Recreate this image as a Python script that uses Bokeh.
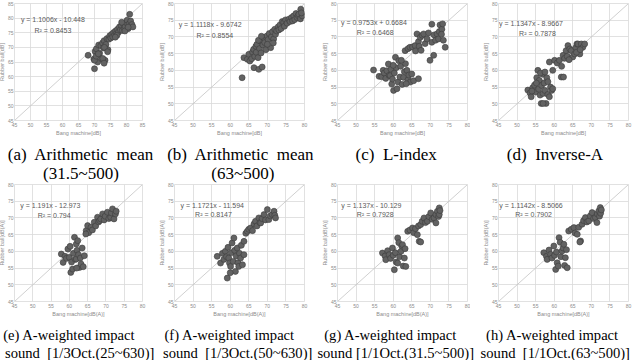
from bokeh.plotting import figure
from bokeh.layouts import row, column
from bokeh.models import Range1d, FixedTicker, Label
from bokeh.embed import file_html
from bokeh.resources import INLINE

# ---------------- data ----------------
axis_min = 45
axis_max = [85, 80, 80, 80, 80, 80, 80, 80]
tick_step = 5

equations = ["y = 1.1006x - 10.448", "y = 1.1118x - 9.6742", "y = 0.9753x + 0.6684",
             "y = 1.1347x - 8.9667", "y = 1.191x - 12.973", "y = 1.1721x - 11.594",
             "y = 1.137x - 10.129", "y = 1.1142x - 8.5066"]
r_squared = ["R\u00b2 = 0.8453", "R\u00b2 = 0.8554", "R\u00b2 = 0.6468", "R\u00b2 = 0.7878",
             "R\u00b2 = 0.794", "R\u00b2 = 0.8147", "R\u00b2 = 0.7928", "R\u00b2 = 0.7902"]
caption_line1 = ["(a)\u00a0 Arithmetic\u00a0 mean", "(b)\u00a0 Arithmetic\u00a0 mean",
                 "(c)\u00a0 L-index", "(d)\u00a0 Inverse-A",
                 "(e) A-weighted impact", "(f) A-weighted impact", "(g) A-weighted impact",
                 "(h) A-weighted impact"]
caption_line2 = ["(31.5~500)", "(63~500)", "", "",
                 "sound\u00a0 [1/3Oct.(25~630)]", "sound\u00a0 [1/3Oct.(50~630)]",
                 "sound [1/1Oct.(31.5~500)]", "sound\u00a0 [1/1Oct.(63~500)]"]
x_titles = ["Bang machine[dB]"] * 4 + ["Bang machine[dB(A)]"] * 4
y_titles = ["Rubber ball[dB]"] * 4 + ["Rubber ball[dB(A)]"] * 4

points_a = [(68.0,67.3),(69.8,66.0),(70.0,62.7),(70.2,68.6),(70.6,69.5),(71.0,65.0),(71.3,70.8),
            (71.6,68.0),(72.0,70.6),(72.2,66.1),(72.5,71.5),(72.8,69.8),(73.0,72.3),(73.3,65.6),
            (73.6,71.0),(73.9,73.0),(74.2,69.2),(74.5,72.8),(74.8,74.0),(75.1,73.2),(75.4,74.5),
            (75.7,73.6),(76.0,75.1),(76.3,74.2),(76.6,75.6),(76.9,74.8),(77.2,76.2),(77.5,75.2),
            (77.8,77.0),(78.1,76.0),(78.4,77.5),(78.7,75.8),(79.0,78.1),(79.3,76.5),(79.6,77.2),
            (79.9,78.5),(80.2,79.3),(80.5,76.4),(80.8,78.0),(81.0,81.3),(81.3,79.0),(81.7,77.8),
            (82.0,77.0),(70.0,65.6),(70.5,67.0),(71.2,67.8),(72.6,66.2),(73.1,70.0),(73.0,64.6),
            (74.1,68.5),(77.0,74.1),(78.5,78.6),(79.5,75.6),(80.5,76.9),(76.5,73.5)]
points_b = [(63.2,57.8),(63.7,63.8),(64.6,63.3),(65.0,64.8),(65.3,62.8),(65.8,63.5),(66.0,65.5),
            (66.3,66.3),(66.4,60.8),(66.6,64.2),(66.9,67.2),(67.2,67.8),(67.0,65.4),(67.5,63.8),
            (67.7,60.3),(67.9,66.5),(68.1,68.8),(68.3,65.2),(68.6,61.0),(68.8,67.6),(69.0,69.8),
            (69.3,68.3),(69.6,66.2),(69.9,70.3),(70.2,69.2),(70.5,71.0),(70.9,66.8),(71.1,70.0),
            (71.4,71.6),(71.7,69.4),(72.0,72.3),(72.2,70.8),(72.5,71.8),(72.9,73.0),(73.1,72.1),
            (73.4,73.6),(73.7,72.5),(74.0,74.6),(74.4,74.3),(74.6,73.2),(74.9,75.1),(75.3,74.1),
            (75.8,75.3),(76.1,74.6),(76.5,75.8),(76.8,74.8),(77.1,76.3),(77.4,75.2),(77.7,77.0),
            (78.0,75.8),(78.3,76.4),(78.5,76.8),(79.0,78.3),(78.9,75.4),(79.4,76.3),(79.2,77.2),
            (67.6,69.0),(68.4,70.2),(70.0,67.8),(71.6,68.2)]
points_c = [(54.7,60.1),(56.2,58.2),(56.9,58.1),(57.3,60.0),(57.6,59.2),(58.0,57.6),(58.3,59.9),
            (58.7,61.9),(58.9,58.5),(59.2,58.4),(59.4,60.3),(59.6,55.9),(59.8,57.4),(60.1,54.0),
            (60.3,59.2),(60.6,63.9),(60.8,60.8),(61.0,54.5),(61.3,56.5),(61.5,62.9),(61.8,58.0),
            (62.0,61.2),(62.4,55.8),(62.8,57.9),(63.0,59.6),(63.3,62.0),(63.7,60.0),(64.0,57.2),
            (64.2,58.6),(64.6,56.5),(65.0,58.9),(65.5,56.9),(63.5,56.0),(62.2,63.0),(60.0,61.5),
            (63.2,65.9),(64.0,66.5),(64.5,66.9),(65.2,67.0),(65.9,67.4),(66.0,65.8),(66.4,70.9),
            (66.8,68.6),(67.3,69.9),(67.0,67.2),(67.8,70.5),(68.2,70.9),(68.6,68.0),(69.1,69.4),
            (69.5,71.2),(69.9,63.0),(70.4,68.4),(70.4,73.8),(70.9,64.5),(71.0,70.6),(71.4,69.0),
            (71.8,70.9),(72.2,69.4),(72.4,71.6),(72.6,73.6),(73.1,72.3),(73.0,70.8),(73.5,69.0),
            (74.0,66.9),(73.3,73.9),(66.8,57.5),(67.5,66.0)]
points_d = [(52.9,54.1),(53.5,53.2),(53.8,52.1),(54.2,54.8),(54.7,55.6),(55.0,53.5),(55.3,57.8),
            (55.6,60.0),(55.8,54.4),(56.0,57.0),(56.2,52.6),(56.5,50.1),(56.6,55.5),(56.9,58.8),
            (57.0,53.1),(57.3,56.2),(57.5,54.0),(57.8,50.1),(58.0,57.8),(58.3,56.6),(58.3,52.8),
            (58.7,52.1),(59.0,55.0),(59.3,54.0),(59.6,54.5),(56.3,59.2),(57.5,59.5),(55.2,56.2),
            (54.0,53.8),(57.0,50.1),
            (58.7,62.5),(59.6,60.0),(60.1,63.0),(60.8,62.2),(61.4,63.0),(61.9,58.0),(62.0,61.2),
            (62.4,64.5),(62.8,63.6),(63.2,65.9),(63.5,64.2),(63.7,67.4),(64.2,66.4),(64.6,65.9),
            (65.0,64.0),(65.5,64.9),(65.8,66.8),(66.1,67.9),(66.4,67.9),(66.9,64.9),(67.3,67.9),
            (67.7,66.9),(68.2,67.9),(66.0,65.4),(64.0,63.2),(62.5,58.0),(67.0,66.2)]
points_e = [(57.8,59.2),(58.3,56.7),(58.8,58.5),(59.2,57.9),(59.6,60.7),(60.0,58.2),(60.2,61.5),
            (60.4,53.7),(60.6,56.8),(60.9,54.7),(61.1,59.4),(61.4,64.2),(61.6,57.6),(61.9,62.2),
            (61.9,57.7),(62.1,60.3),(62.3,63.2),(62.5,59.0),(62.8,55.2),(63.0,58.0),(63.2,56.2),
            (63.5,61.0),(63.8,55.4),(64.1,58.7),(64.6,66.2),(65.0,67.7),(65.3,65.6),(65.9,67.2),
            (66.3,66.4),(66.8,68.7),(67.2,67.6),(67.7,70.2),(68.0,68.8),(68.3,69.2),(68.6,69.7),
            (69.1,71.2),(69.5,69.4),(69.8,70.5),(70.4,71.7),(70.8,69.8),(71.3,70.2),(71.5,71.5),
            (71.8,72.7),(72.2,69.7),(72.6,71.2),(72.8,72.0),(62.0,55.0),(64.5,65.2)]
points_f = [(56.5,58.5),(57.4,56.5),(57.9,59.4),(58.3,57.6),(58.7,60.0),(59.0,58.4),(59.2,52.0),
            (59.4,61.2),(59.6,58.0),(59.8,56.5),(60.1,55.5),(60.3,59.6),(60.5,62.5),(60.8,57.0),
            (61.0,64.0),(61.2,60.3),(61.4,54.0),(61.6,58.6),(61.9,61.0),(62.1,56.6),(62.3,55.5),
            (62.5,59.4),(62.8,58.0),(63.0,61.8),(63.3,56.0),(63.7,59.0),(63.7,63.0),(64.2,65.4),
            (64.6,66.0),(65.0,66.6),(65.5,67.0),(66.0,66.2),(66.4,68.2),(66.8,69.0),(67.2,67.6),
            (67.7,70.0),(68.0,68.6),(68.2,68.5),(68.6,69.8),(69.1,71.0),(69.5,69.4),(70.0,72.5),
            (70.4,69.5),(70.8,70.6),(71.3,71.0),(71.8,72.0),(72.0,70.8),(72.2,70.0),(60.0,53.6)]
points_g = [(57.1,59.5),(57.8,58.6),(58.0,57.5),(58.5,60.2),(58.9,59.0),(59.3,57.9),(59.8,61.0),
            (60.0,58.8),(60.3,54.5),(60.6,59.6),(60.8,56.8),(61.2,64.0),(61.2,56.5),(61.5,62.6),
            (61.7,58.4),(62.1,60.0),(62.3,61.6),(62.5,62.0),(62.7,55.6),(63.0,58.0),(63.4,55.5),
            (63.2,60.8),(63.9,66.0),(64.5,66.4),(65.2,67.0),(65.5,65.6),(66.0,66.8),(66.5,65.0),
            (66.8,67.6),(67.0,63.0),(67.4,68.0),(67.8,69.0),(68.3,70.0),(68.7,68.6),(69.2,69.0),
            (69.6,70.4),(70.1,71.5),(70.5,69.6),(71.0,70.0),(71.5,68.5),(71.5,71.0),(71.9,72.0),
            (72.2,70.4),(72.4,73.0),(72.4,71.0),(72.6,72.2),(67.4,62.8)]
points_h = [(57.2,59.6),(57.9,58.5),(58.1,57.6),(58.6,60.4),(59.0,59.1),(59.4,58.0),(59.9,61.6),
            (60.1,58.8),(60.4,54.6),(60.6,59.8),(60.8,56.6),(61.3,64.1),(61.1,55.6),(61.6,62.7),
            (61.8,58.4),(62.1,60.1),(62.4,61.0),(62.6,62.1),(62.8,55.8),(63.0,58.1),(63.5,55.1),
            (63.3,60.5),(63.9,66.1),(64.6,66.6),(65.3,67.1),(65.6,65.5),(66.2,65.1),(66.6,67.2),
            (67.1,63.1),(67.5,68.1),(67.9,69.2),(68.4,70.1),(68.8,68.8),(69.3,69.1),(69.7,70.6),
            (70.2,71.6),(70.6,69.8),(71.1,70.1),(71.5,68.6),(71.6,71.2),(72.0,72.1),(72.2,70.5),
            (72.4,73.1),(72.5,71.4),(72.7,72.4),(66.9,62.8)]
all_points = [points_a, points_b, points_c, points_d, points_e, points_f, points_g, points_h]

# ---------------- layout / style ----------------
TOTAL_W = 633
col_left = [0, 158, 316, 474]
Y_AXIS_W = 28
fig_w = [160, 163, 161, 163]
fig_margin_left = [-14, 0, 0, 0]
border_r = [4, 5, 3, 5]
row_border_t = [3, 4]
frame_h = 117
X_AXIS_H = 20
caption_h = [44, 39]
row2_overlap = 4
cap1_cx = [80.5, 82.3, 79.7, 80.5, 68.8, 71.2, 74.2, 78.0]
cap2_cx = [80.5, 84.3, 80, 80, 79.2, 79.2, 79.2, 80.8]
cap1_top = [14, 13]
cap2_top = [33, 31.5]
cap_font = ["17px", "14.6px"]
eq1_pos = [(0.30, 0.134), (0.274, 0.18), (0.28, 0.16), (0.25, 0.17),
           (0.28, 0.18), (0.29, 0.18), (0.26, 0.18), (0.25, 0.18)]
eq2_pos = [(0.30, 0.23), (0.31, 0.27), (0.29, 0.25), (0.30, 0.26),
           (0.31, 0.265), (0.30, 0.26), (0.29, 0.26), (0.27, 0.26)]

GRID = "#d9d9d9"
LABEL_GRAY = "#8c8c8c"
SANS = "Liberation Sans"
SERIF = "Liberation Serif"


def make_panel(i):
    r = i // 4
    k = i % 4
    lo, hi = axis_min, axis_max[i]
    span = hi - lo
    bt = row_border_t[r]
    margin_top = -row2_overlap if r == 1 else 0
    p = figure(width=fig_w[k], height=bt + frame_h + X_AXIS_H,
               x_range=Range1d(lo, hi), y_range=Range1d(lo, hi),
               output_backend="svg", toolbar_location=None,
               min_border_left=Y_AXIS_W, min_border_right=border_r[k],
               min_border_top=bt, min_border_bottom=X_AXIS_H,
               margin=(margin_top, 0, 0, fig_margin_left[k]))
    p.background_fill_color = "white"
    p.border_fill_color = None
    p.outline_line_color = GRID
    p.outline_line_width = 0.8
    ticks = list(range(lo, hi + 1, tick_step))
    for ax in (p.xaxis, p.yaxis):
        ax.ticker = FixedTicker(ticks=ticks)
        ax.axis_line_color = None
        ax.major_tick_line_color = None
        ax.minor_tick_line_color = None
        ax.major_tick_out = 0
        ax.major_tick_in = 0
        ax.minor_tick_out = 0
        ax.minor_tick_in = 0
        ax.major_label_text_font = SANS
        ax.major_label_text_font_size = "5px"
        ax.major_label_text_color = LABEL_GRAY
        ax.major_label_standoff = 1
        ax.axis_label_text_font = SANS
        ax.axis_label_text_font_size = "5.5px"
        ax.axis_label_text_font_style = "normal"
        ax.axis_label_text_color = LABEL_GRAY
        ax.axis_label_standoff = 0
    p.xaxis.major_label_standoff = 2
    p.xaxis.axis_label = x_titles[i]
    p.yaxis.axis_label = y_titles[i]
    p.xgrid.ticker = FixedTicker(ticks=ticks)
    p.ygrid.ticker = FixedTicker(ticks=ticks)
    p.grid.grid_line_color = GRID
    p.grid.grid_line_width = 0.8

    # y = x reference line across the axis limits
    p.line([lo, hi], [lo, hi], line_color="#c4c4c4", line_width=0.8)

    pts = all_points[i]
    xs = [q[0] for q in pts]
    ys = [q[1] for q in pts]
    p.scatter(xs, ys, marker="circle", size=6.0, fill_color="#626262",
              line_color="#3c3c3c", line_width=0.6)

    for text, (fx, fy) in ((equations[i], eq1_pos[i]), (r_squared[i], eq2_pos[i])):
        p.add_layout(Label(x=lo + fx * span, y=hi - fy * span, text=text,
                           text_align="center", text_baseline="middle",
                           text_font=SANS, text_font_size="7px", text_color="#595959"))
    return p


def make_caption_strip(r):
    h = caption_h[r]
    c = figure(width=TOTAL_W, height=h,
               x_range=Range1d(0, TOTAL_W), y_range=Range1d(0, h),
               x_axis_type=None, y_axis_type=None,
               output_backend="svg", toolbar_location=None, min_border=0)
    c.grid.visible = False
    c.outline_line_color = None
    c.background_fill_color = "white"
    c.border_fill_color = "white"
    for k in range(4):
        i = r * 4 + k
        c.add_layout(Label(x=col_left[k] + cap1_cx[i], y=h - cap1_top[r],
                           text=caption_line1[i], text_align="center", text_baseline="middle",
                           text_font=SERIF, text_font_size=cap_font[r], text_color="black"))
        if caption_line2[i]:
            c.add_layout(Label(x=col_left[k] + cap2_cx[i], y=h - cap2_top[r],
                               text=caption_line2[i], text_align="center", text_baseline="middle",
                               text_font=SERIF, text_font_size=cap_font[r], text_color="black"))
    return c


panels = [make_panel(i) for i in range(8)]
layout = column(row(*panels[:4]), make_caption_strip(0),
                row(*panels[4:]), make_caption_strip(1))

open("out.html", "w").write(file_html(layout, INLINE))
